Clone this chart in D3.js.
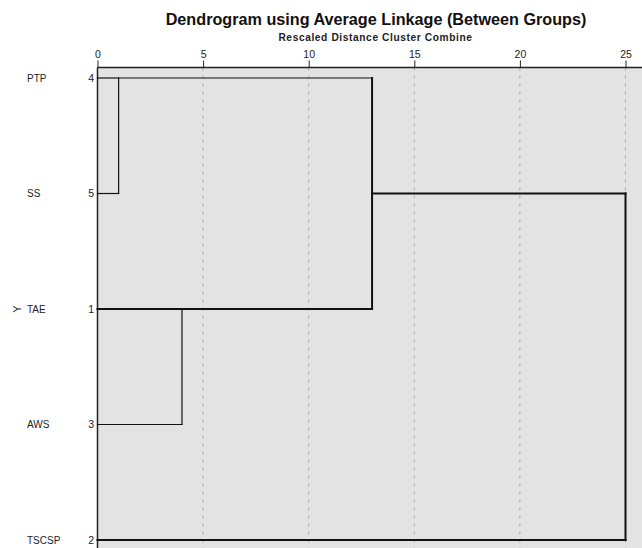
<!DOCTYPE html>
<html><head><meta charset="utf-8">
<script src="https://cdn.jsdelivr.net/npm/d3@7"></script>
<style>body{margin:0;background:#fff;} text{font-family:"Liberation Sans",Arial,sans-serif;}</style>
</head><body>
<svg id="chart" width="642" height="548"></svg>
<script>
// ---- data ----
const caseLabels = ["PTP", "SS", "TAE", "AWS", "TSCSP"];
const caseNumbers = [4, 5, 1, 3, 2];
// merges: [childA, childB, rescaled distance]; leaves 0..4, clusters 5+
const mergeA = [0, 2, 5, 7];
const mergeB = [1, 3, 6, 4];
const mergeDist = [1, 4, 13, 25];
const tickValues = [0, 5, 10, 15, 20, 25];
const titleText = "Dendrogram using Average Linkage (Between Groups)";
const subtitleText = "Rescaled Distance Cluster Combine";
const axisLabel = "Y";

// ---- layout ----
const W = 642, H = 548;
const plotLeft = 97.5, plotTop = 67.5;
const svg = d3.select("#chart");
const x = d3.scaleLinear().domain([0, 25]).range([plotLeft, 625.5]);
const y = d3.scalePoint().domain(d3.range(caseLabels.length)).range([78, 540]);
const thickRows = new Set([2, 4]);

svg.append("rect").attr("x", plotLeft).attr("y", plotTop)
  .attr("width", W - plotLeft).attr("height", H - plotTop).attr("fill", "#e3e3e3");

// gridlines
svg.append("g").selectAll("line").data(tickValues.filter(d => d > 0)).join("line")
  .attr("x1", d => x(d)).attr("x2", d => x(d))
  .attr("y1", plotTop).attr("y2", H)
  .attr("stroke", "#a8a8a8").attr("stroke-width", 1).attr("stroke-dasharray", "3,5");

// top axis
const axis = d3.axisTop(x).tickValues(tickValues).tickSize(7).tickPadding(3).tickFormat(d3.format("d"));
const ag = svg.append("g").attr("transform", `translate(0,${plotTop})`).call(axis);
ag.select(".domain").attr("stroke", "#222").attr("stroke-width", 1.5).attr("d", `M${plotLeft},0H${W}`);
ag.selectAll(".tick line").attr("stroke", "#222");
ag.selectAll(".tick text").attr("font-size", 10.5).attr("fill", "#222")
  .style("font-family", '"Liberation Sans",Arial,sans-serif');

// left border
svg.append("line").attr("x1", plotLeft).attr("x2", plotLeft).attr("y1", plotTop).attr("y2", H)
  .attr("stroke", "#222").attr("stroke-width", 1.5);

// case labels and numbers
svg.append("g").selectAll("text").data(caseLabels).join("text")
  .attr("x", 27).attr("y", (d, i) => y(i)).attr("dy", "0.35em")
  .attr("font-size", 10).attr("fill", "#222").text(d => d);
svg.append("g").selectAll("text").data(caseNumbers).join("text")
  .attr("x", 94).attr("y", (d, i) => y(i)).attr("dy", "0.35em").attr("text-anchor", "end")
  .attr("font-size", 10.5).attr("fill", "#222").text(d => d);

// Y label rotated
svg.append("text").attr("transform", `translate(21,${y(2)}) rotate(-90)`)
  .attr("text-anchor", "middle").attr("font-size", 11).attr("fill", "#222").text(axisLabel);

// titles
svg.append("text").attr("x", 376).attr("y", 25).attr("text-anchor", "middle")
  .attr("font-size", 16.2).attr("font-weight", "bold").attr("fill", "#111").text(titleText);
svg.append("text").attr("x", 375.5).attr("y", 41).attr("text-anchor", "middle")
  .attr("font-size", 10.2).attr("font-weight", "bold").attr("fill", "#222")
  .attr("letter-spacing", 0.6).text(subtitleText);

// dendrogram
const pos = caseLabels.map((d, i) => i);   // row position per node
const height = caseLabels.map(() => 0);    // distance per node
const segs = [];
mergeA.forEach((a, k) => {
  const b = mergeB[k], d = mergeDist[k];
  [a, b].forEach(c => segs.push({x1: height[c], x2: d, r1: pos[c], r2: pos[c],
    w: (thickRows.has(pos[c]) || (d >= 13 && pos[c] !== 0)) ? 2 : 1.2}));
  segs.push({x1: d, x2: d, r1: pos[a], r2: pos[b], w: d >= 13 ? 2 : 1.2});
  pos.push(Math.floor((pos[a] + pos[b]) / 2));
  height.push(d);
});
svg.append("g").selectAll("line").data(segs).join("line")
  .attr("x1", s => x(s.x1)).attr("x2", s => x(s.x2))
  .attr("y1", s => y(s.r1)).attr("y2", s => y(s.r2))
  .attr("stroke", "#111").attr("stroke-width", s => s.w).attr("stroke-linecap", "square");
</script>
</body></html>
